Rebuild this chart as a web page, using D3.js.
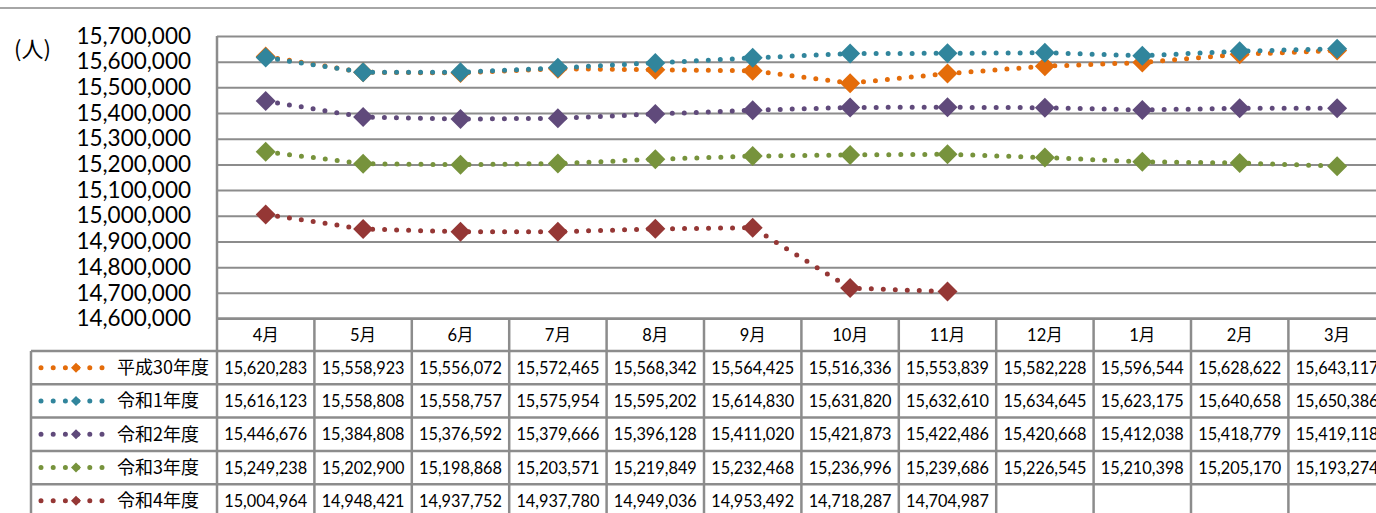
<!DOCTYPE html>
<html>
<head>
<meta charset="utf-8">
<script src="https://cdn.jsdelivr.net/npm/d3@7"></script>
<style>
  body { margin: 0; background: #fff; overflow: hidden; }
  svg { display: block; }
  .num { font-family: Lato, "Noto Sans CJK JP", sans-serif; fill: #000; }
  .jp { font-family: "Noto Sans CJK JP", sans-serif; fill: #000; }
</style>
</head>
<body>
<div id="chart"></div>
<script>
var months = ["4月", "5月", "6月", "7月", "8月", "9月", "10月", "11月", "12月", "1月", "2月", "3月"];
var seriesNames = ["平成30年度", "令和1年度", "令和2年度", "令和3年度", "令和4年度"];
var seriesColors = ["#E46C0A", "#31859C", "#604A7B", "#77933C", "#953735"];
var h30 = [15620283, 15558923, 15556072, 15572465, 15568342, 15564425, 15516336, 15553839, 15582228, 15596544, 15628622, 15643117];
var r1 = [15616123, 15558808, 15558757, 15575954, 15595202, 15614830, 15631820, 15632610, 15634645, 15623175, 15640658, 15650386];
var r2 = [15446676, 15384808, 15376592, 15379666, 15396128, 15411020, 15421873, 15422486, 15420668, 15412038, 15418779, 15419118];
var r3 = [15249238, 15202900, 15198868, 15203571, 15219849, 15232468, 15236996, 15239686, 15226545, 15210398, 15205170, 15193274];
var r4 = [15004964, 14948421, 14937752, 14937780, 14949036, 14953492, 14718287, 14704987, null, null, null, null];
var yTicks = [14600000, 14700000, 14800000, 14900000, 15000000, 15100000, 15200000, 15300000, 15400000, 15500000, 15600000, 15700000];
var unitLabel = "(人)";

var allSeries = [h30, r1, r2, r3, r4];

var wide = 1376;
var high = 513;
var plotLeft = 217;
var colWidth = 97.4;
var plotTop = 36;
var plotBottom = 318.5;
var headerHeight = 32.5;
var rowHeight = 33.3;
var legendLeft = 31;
var lineGray = "#8c8c8c";

var svg = d3.select("#chart")
  .append("svg")
  .attr("width", wide)
  .attr("height", high);

var xScale = d3.scaleBand()
  .domain(months)
  .range([plotLeft, plotLeft + colWidth * months.length]);

var yScale = d3.scaleLinear()
  .domain([14600000, 15700000])
  .range([plotBottom, plotTop]);

// outer chart border (top edge only is visible)
svg.append("line")
  .attr("x1", 0).attr("x2", wide)
  .attr("y1", 8).attr("y2", 8)
  .attr("stroke", "#a6a6a6").attr("stroke-width", 2);

// y axis with gridlines
var yAxis = d3.axisLeft(yScale)
  .tickValues(yTicks)
  .tickSize(-(colWidth * months.length))
  .tickPadding(26)
  .tickFormat(d3.format(","));

var yG = svg.append("g")
  .attr("transform", "translate(" + plotLeft + ",0)")
  .call(yAxis);
yG.select(".domain").remove();
yG.selectAll(".tick line")
  .attr("stroke", lineGray)
  .attr("stroke-width", 2);
yG.selectAll(".tick text")
  .attr("class", "num")
  .attr("font-size", 22.5)
  .attr("fill", "#000");

svg.append("text")
  .attr("class", "jp")
  .attr("x", 14)
  .attr("y", 57)
  .attr("font-size", 22)
  .text(unitLabel);

// table
var tableTop = plotBottom;
var tableRight = plotLeft + colWidth * months.length;
var rowY = function(i) { return tableTop + headerHeight + i * rowHeight; };
var tbl = svg.append("g");

// horizontal lines
tbl.append("line")
  .attr("x1", plotLeft).attr("x2", tableRight)
  .attr("y1", tableTop).attr("y2", tableTop)
  .attr("stroke", lineGray).attr("stroke-width", 2.5);
for (var i = 0; i <= seriesNames.length; i++) {
  tbl.append("line")
    .attr("x1", legendLeft).attr("x2", tableRight)
    .attr("y1", rowY(i)).attr("y2", rowY(i))
    .attr("stroke", lineGray).attr("stroke-width", 2.5);
}
// vertical lines
tbl.append("line")
  .attr("x1", plotLeft).attr("x2", plotLeft)
  .attr("y1", plotTop).attr("y2", high)
  .attr("stroke", lineGray).attr("stroke-width", 2.5);
tbl.append("line")
  .attr("x1", legendLeft).attr("x2", legendLeft)
  .attr("y1", rowY(0)).attr("y2", high)
  .attr("stroke", lineGray).attr("stroke-width", 2.5);
months.forEach(function(m) {
  var x = xScale(m) + xScale.bandwidth();
  tbl.append("line")
    .attr("x1", x).attr("x2", x)
    .attr("y1", tableTop).attr("y2", high)
    .attr("stroke", lineGray).attr("stroke-width", 2.5);
});

// header text
tbl.selectAll("text.head")
  .data(months)
  .enter()
  .append("text")
  .attr("class", "num")
  .attr("x", function(d) { return xScale(d) + xScale.bandwidth() / 2; })
  .attr("y", tableTop + headerHeight / 2 + 6)
  .attr("text-anchor", "middle")
  .attr("font-size", 16.5)
  .text(function(d) { return d; });

// values
var fmt = d3.format(",");
allSeries.forEach(function(vals, si) {
  tbl.selectAll("text.v" + si)
    .data(vals)
    .enter()
    .append("text")
    .attr("class", "num")
    .attr("x", function(d, j) { return xScale(months[j]) + xScale.bandwidth() / 2; })
    .attr("y", rowY(si) + rowHeight / 2 + 6)
    .attr("text-anchor", "middle")
    .attr("font-size", 16.3)
    .text(function(d) { return d == null ? "" : fmt(d); });
});

// legend keys in table
function diamond(r) {
  return "M0," + (-r) + "L" + r + ",0L0," + r + "L" + (-r) + ",0Z";
}
seriesNames.forEach(function(name, si) {
  var cy = rowY(si) + rowHeight / 2;
  tbl.append("line")
    .attr("x1", 41).attr("x2", 103)
    .attr("y1", cy).attr("y2", cy)
    .attr("stroke", seriesColors[si])
    .attr("stroke-width", 5)
    .attr("stroke-linecap", "round")
    .attr("stroke-dasharray", "0 12.2");
  tbl.append("path")
    .attr("d", diamond(5))
    .attr("transform", "translate(76," + cy + ")")
    .attr("fill", seriesColors[si]);
  tbl.append("text")
    .attr("class", "jp")
    .attr("x", 117)
    .attr("y", cy + 6.5)
    .attr("font-size", 18)
    .text(name);
});

// lines and markers
var line = d3.line()
  .defined(function(d) { return d != null; })
  .x(function(d, j) { return xScale(months[j]) + xScale.bandwidth() / 2; })
  .y(function(d) { return yScale(d); });

allSeries.forEach(function(vals, si) {
  var g = svg.append("g");
  g.append("path")
    .datum(vals)
    .attr("d", line)
    .attr("fill", "none")
    .attr("stroke", seriesColors[si])
    .attr("stroke-width", 5)
    .attr("stroke-linecap", "round")
    .attr("stroke-dasharray", "0 12");
  g.selectAll("path.mk")
    .data(vals.map(function(v, j) { return { v: v, m: months[j] }; })
      .filter(function(d) { return d.v != null; }))
    .enter()
    .append("path")
    .attr("d", diamond(10))
    .attr("transform", function(d) {
      return "translate(" + (xScale(d.m) + xScale.bandwidth() / 2) + "," + yScale(d.v) + ")";
    })
    .attr("fill", seriesColors[si]);
});
</script>
</body>
</html>
